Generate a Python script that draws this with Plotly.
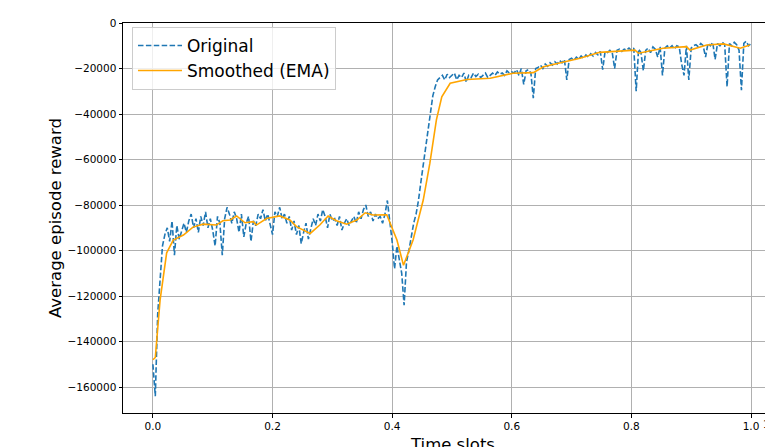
import numpy as np
import plotly.graph_objects as go

# Original rewards (thousands), evenly spaced over time slots (x in units of 1e6)
orig_k = [
    -150, -164, -128, -112, -98, -93, -90, -96, -87, -102,
    -89, -95, -91, -88, -92, -87, -84, -90, -86, -92,
    -85, -89, -83, -90, -86, -91, -98, -85, -88, -102,
    -86, -81, -84, -88, -83, -86, -92, -84, -94, -88,
    -85, -96, -87, -89, -84, -86, -82, -87, -84, -88,
    -93, -83, -85, -81, -86, -84, -88, -85, -91, -87,
    -93, -89, -97, -92, -88, -95, -90, -86, -89, -84,
    -87, -82, -85, -90, -84, -87, -86, -89, -85, -91,
    -88, -86, -89, -87, -85, -88, -83, -86, -82, -80,
    -85, -83, -87, -84, -86, -85, -88, -84, -78, -87,
    -96, -108, -98, -104, -110, -124, -105, -100, -94, -88,
    -84, -78, -70, -62, -55, -46, -38, -32, -28, -25,
    -24, -23, -25, -22.5, -24, -23, -22, -25, -23, -24,
    -22, -26, -23, -24, -22, -23.5, -22.5, -24, -23, -22,
    -24, -23, -22, -23, -21.5, -22.5, -22, -23, -21, -22,
    -21.5, -22, -20.5, -23, -20, -27, -21, -20.5, -22, -33,
    -20, -19.5, -18.5, -20, -18, -19, -17.5, -18.5, -17, -18,
    -16.5, -17.5, -16, -25, -16, -15.5, -16.5, -15, -16, -14.5,
    -15.5, -14, -15, -13.5, -14.5, -13, -14, -12.5, -20.5, -12.5,
    -13, -12, -13, -20, -12, -11.5, -12.5, -11.5, -12, -11,
    -12, -11, -30, -11.5, -13, -21, -12, -11, -13, -10.5,
    -11.5, -15, -10.5, -23, -11, -10, -11, -10, -11.5, -10,
    -10.5, -18, -23, -10, -25, -11, -10, -9.5, -10.5, -9,
    -10, -15, -9, -10, -8.5, -16, -9, -10, -8.5, -9.5,
    -28, -9, -10, -8.5, -9.5, -12, -29.5, -9, -8, -10,
    -9,
]
orig_x = np.linspace(0.0, 1.0, len(orig_k))
orig_y = np.array(orig_k) * 1000

# Smoothed (EMA) curve
ema_x = [0.0, 0.004, 0.012, 0.023, 0.034, 0.051, 0.067, 0.084, 0.106, 0.117,
         0.129, 0.140, 0.154, 0.168, 0.173, 0.190, 0.212, 0.229, 0.240, 0.263,
         0.279, 0.293, 0.307, 0.324, 0.341, 0.355, 0.368, 0.391, 0.408, 0.419,
         0.435, 0.452, 0.463, 0.474, 0.483, 0.497, 0.525, 0.564, 0.602, 0.636,
         0.653, 0.697, 0.714, 0.747, 0.770, 0.806, 0.812, 0.853, 0.892, 0.898,
         0.926, 0.954, 0.982, 0.998]
ema_k = [-148, -147, -121.8, -101, -95.4, -93.2, -89.7, -88.4, -88.8, -86.9,
         -86.6, -84.8, -87.8, -87.3, -88.8, -85.9, -84.8, -86.6, -89.5, -92.5,
         -88.8, -84.8, -86.9, -88.4, -86.6, -83.4, -84.4, -84.3, -95.4, -106.5,
         -95.4, -77.8, -61.7, -42.6, -32.4, -26.5, -24.8, -24.3, -22.1, -21.8,
         -19.2, -16.3, -15.5, -12.9, -12.6, -11.9, -13.3, -11.1, -10.4, -11.9,
         -9.7, -9.2, -11.1, -9.7]
ema_y = np.array(ema_k) * 1000

x_ticks = [0.0, 0.2, 0.4, 0.6, 0.8, 1.0]
x_tick_text = ["0.0", "0.2", "0.4", "0.6", "0.8", "1.0"]
y_ticks = [0, -20000, -40000, -60000, -80000, -100000, -120000, -140000, -160000]
y_tick_text = ["0", "\u221220000", "\u221240000", "\u221260000", "\u221280000",
               "\u2212100000", "\u2212120000", "\u2212140000", "\u2212160000"]

FONT = "DejaVu Sans"

fig = go.Figure()
fig.add_trace(go.Scatter(
    x=orig_x, y=orig_y, mode="lines", name="Original",
    line=dict(color="#1f77b4", width=1.6, dash="5.5px,2.4px"),
))
fig.add_trace(go.Scatter(
    x=ema_x, y=ema_y, mode="lines", name="Smoothed (EMA)",
    line=dict(color="orange", width=1.6),
))

W, H = 765, 447
L, R, T, B = 123, 0, 23, 34

fig.update_layout(
    width=W, height=H,
    margin=dict(l=L, r=R, t=T, b=B, pad=0),
    paper_bgcolor="white", plot_bgcolor="white",
    font=dict(family=FONT, size=10.5, color="black"),
    showlegend=True,
    legend=dict(
        x=0.014, y=0.99, xanchor="left", yanchor="top",
        bgcolor="rgba(255,255,255,0.8)", bordercolor="#cccccc", borderwidth=1,
        font=dict(family=FONT, size=17, color="black"),
        tracegroupgap=0, itemwidth=44,
    ),
    xaxis=dict(
        range=[-0.05, 1.0234],
        tickvals=x_ticks, ticktext=x_tick_text,
        showgrid=True, gridcolor="#b0b0b0", gridwidth=0.8,
        showline=True, linecolor="black", linewidth=1, mirror=True,
        ticks="outside", ticklen=3.5, tickcolor="black", tickwidth=0.8,
        zeroline=False,
    ),
    yaxis=dict(
        range=[-171400, 0],
        tickvals=y_ticks, ticktext=y_tick_text,
        showgrid=True, gridcolor="#b0b0b0", gridwidth=0.8,
        showline=True, linecolor="black", linewidth=1, mirror=False,
        ticks="outside", ticklen=3.5, tickcolor="black", tickwidth=0.8,
        zeroline=False,
    ),
    annotations=[
        dict(text="Average episode reward", xref="paper", yref="paper",
             x=(55 - L) / (W - L - R), y=0.5, xanchor="center", yanchor="middle",
             textangle=-90, showarrow=False, font=dict(family=FONT, size=16.5)),
        dict(text="Time slots", xref="paper", yref="paper",
             x=(452 - L) / (W - L - R), y=0, xanchor="center", yanchor="top",
             yshift=-20, showarrow=False, font=dict(family=FONT, size=16.5)),
        dict(text="1e6", xref="paper", yref="paper",
             x=(761 - L) / (W - L - R), y=0, xanchor="left", yanchor="top",
             yshift=-3, showarrow=False, font=dict(family=FONT, size=10.5)),
    ],
)

fig.write_html("out.html")
